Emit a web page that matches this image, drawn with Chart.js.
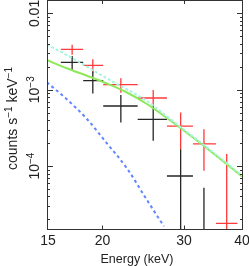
<!DOCTYPE html>
<html><head><meta charset="utf-8">
<script src="https://cdn.jsdelivr.net/npm/chart.js@4/dist/chart.umd.min.js"></script>
<style>html,body{margin:0;padding:0;background:#fff;overflow:hidden}canvas{display:block}</style>
</head><body>
<canvas id="c" width="249" height="266" style="width:249px;height:266px"></canvas>
<script>
// ---- data ----
const binCenter = [17.20, 19.06, 21.91, 25.73, 29.49, 33.11, 37.07];
const binLo     = [16.26, 18.17, 20.07, 23.82, 27.55, 31.35, 35.15];
const binHi     = [18.17, 20.07, 23.82, 27.55, 31.35, 35.15, 39.08];
const redRate   = [3.39e-3, 2.09e-3, 1.165e-3, 7.80e-4, 3.35e-4, 1.95e-4, 1.78e-5];
const redErr    = [0.51e-3, 0.42e-3, 0.25e-3, 2.1e-4, 1.7e-4, 1.08e-4, 1.26e-4];
const blackRate = [2.29e-3, 1.315e-3, 6.13e-4, 4.10e-4, 7.42e-5, 8.0e-6];
const blackErr  = [0.49e-3, 0.42e-3, 2.4e-4, 1.95e-4, 9.2e-5, 4.4e-5];

const modelE    = [15.17, 16.75, 18.51, 20.44, 22.58, 24.94, 27.55, 30.43, 33.11, 40.0];
const greenModel= [2.455e-3, 1.911e-3, 1.529e-3, 1.209e-3, 9.21e-4, 6.51e-4, 4.27e-4, 2.715e-4, 1.834e-4, 7.31e-5];
const cyanModel = [3.92e-3, 2.85e-3, 2.01e-3, 1.41e-3, 1.01e-3, 7.13e-4, 4.47e-4, 2.80e-4, 1.89e-4, 7.53e-5];
const blueE     = [15.17, 16.75, 18.51, 20.44, 22.58, 24.94, 27.14];
const blueModel = [1.253e-3, 7.50e-4, 4.14e-4, 1.99e-4, 9.36e-5, 3.60e-5, 1.63e-5];

const xTickValues = [15, 20, 30, 40];
const xTickLabels = ['15', '20', '30', '40'];
const yTickValues = [0.01, 1e-3, 1e-4];
const yTickBase   = ['0.01', '10', '10'];
const yTickExp    = ['', '\u22123', '\u22124'];

const FONT = '"Liberation Sans", Arial, sans-serif';

function pts(xs, ys) { return xs.map((x, i) => ({ x: x, y: ys[i] })); }

const errSeries = [
  { rate: redRate, err: redErr, color: '#ff3a3a' },
  { rate: blackRate, err: blackErr, color: '#262626' }
];

const plotPlugin = {
  id: 'plotPlugin',
  beforeDatasetsDraw(chart) {
    const ctx = chart.ctx, a = chart.chartArea;
    const xs = chart.scales.x, ys = chart.scales.y;
    ctx.save();
    ctx.beginPath(); ctx.rect(a.left, a.top, a.right - a.left, a.bottom - a.top); ctx.clip();
    errSeries.forEach(s => {
      ctx.strokeStyle = s.color; ctx.lineWidth = 1.3;
      s.rate.forEach((r, i) => {
        const px = xs.getPixelForValue(binCenter[i]);
        const x0 = xs.getPixelForValue(binLo[i]);
        const x1 = xs.getPixelForValue(binHi[i]);
        const py = ys.getPixelForValue(r);
        const hi = ys.getPixelForValue(r + s.err[i]);
        const loV = r - s.err[i];
        const lo = loV > 0 ? ys.getPixelForValue(loV) : a.bottom + 5;
        ctx.beginPath();
        ctx.moveTo(x0, py); ctx.lineTo(x1, py);
        ctx.moveTo(px, hi); ctx.lineTo(px, lo);
        ctx.stroke();
      });
    });
    ctx.restore();
  },
  afterDraw(chart) {
    const ctx = chart.ctx, a = chart.chartArea;
    const xs = chart.scales.x, ys = chart.scales.y;
    ctx.save();
    ctx.strokeStyle = '#333'; ctx.lineWidth = 1;
    ctx.strokeRect(a.left + 0.5, a.top + 0.5, a.right - a.left, a.bottom - a.top);
    ctx.beginPath();
    xTickValues.forEach(v => {
      if (v <= xs.min || v >= xs.max) return;
      const p = Math.round(xs.getPixelForValue(v)) + 0.5;
      ctx.moveTo(p, a.bottom + 0.5); ctx.lineTo(p, a.bottom - 3.5);
      ctx.moveTo(p, a.top); ctx.lineTo(p, a.top + 4);
    });
    for (let d = -6; d <= -1; d++) {
      for (let m = 1; m <= 9; m++) {
        const v = m * Math.pow(10, d);
        if (v < ys.min || v > ys.max) continue;
        const len = m === 1 ? 6 : 3;
        const p = Math.round(ys.getPixelForValue(v)) + 0.5;
        ctx.moveTo(a.left, p); ctx.lineTo(a.left + len, p);
        ctx.moveTo(a.right + 1, p); ctx.lineTo(a.right + 1 - len, p);
      }
    }
    ctx.stroke();
    ctx.fillStyle = '#222';
    ctx.font = '14px ' + FONT;
    ctx.textAlign = 'center'; ctx.textBaseline = 'alphabetic';
    xTickValues.forEach((v, i) => {
      const p = xs.getPixelForValue(Math.min(Math.max(v, xs.min), xs.max));
      ctx.fillText(xTickLabels[i], p + (i === 0 ? 1 : 0), 245);
    });
    yTickValues.forEach((v, i) => {
      const p = ys.getPixelForValue(v);
      ctx.save();
      ctx.translate(38.5, p);
      ctx.rotate(-Math.PI / 2);
      ctx.textAlign = 'left';
      ctx.font = '14px ' + FONT;
      const w1 = ctx.measureText(yTickBase[i]).width;
      ctx.font = '10px ' + FONT;
      const w2 = yTickExp[i] ? ctx.measureText(yTickExp[i]).width : 0;
      const start = -(w1 + w2) / 2;
      ctx.font = '14px ' + FONT;
      ctx.fillText(yTickBase[i], start, 0);
      if (yTickExp[i]) { ctx.font = '10px ' + FONT; ctx.fillText(yTickExp[i], start + w1, -5); }
      ctx.restore();
    });
    ctx.font = '12.5px ' + FONT;
    ctx.textAlign = 'center';
    ctx.fillText('Energy (keV)', 137, 263);
    ctx.save();
    ctx.translate(17, 118.5);
    ctx.rotate(-Math.PI / 2);
    const parts = [['counts s', 14, 0], ['\u22121', 10, -5], [' keV', 14, 0], ['\u22121', 10, -5]];
    let total = 0;
    parts.forEach(pp => { ctx.font = pp[1] + 'px ' + FONT; pp.push(ctx.measureText(pp[0]).width); total += pp[3]; });
    let xpos = -total / 2;
    ctx.textAlign = 'left';
    parts.forEach(pp => { ctx.font = pp[1] + 'px ' + FONT; ctx.fillText(pp[0], xpos, pp[2]); xpos += pp[3]; });
    ctx.restore();
    ctx.restore();
  }
};

new Chart(document.getElementById('c').getContext('2d'), {
  type: 'scatter',
  data: {
    datasets: [
      { label: 'cyan', type: 'line', data: pts(modelE, cyanModel), borderColor: '#a6f5dc', borderWidth: 2,
        borderDash: [3, 2], pointRadius: 0, fill: false, cubicInterpolationMode: 'monotone', clip: 0 },
      { label: 'green', type: 'line', data: pts(modelE, greenModel), borderColor: '#8ee85a', borderWidth: 2,
        pointRadius: 0, fill: false, cubicInterpolationMode: 'monotone', clip: 0 },
      { label: 'blue', type: 'line', data: pts(blueE, blueModel), borderColor: '#6285ff', borderWidth: 2,
        borderDash: [3, 3], pointRadius: 0, fill: false, cubicInterpolationMode: 'monotone', clip: 0 }
    ]
  },
  options: {
    responsive: false, animation: false, events: [],
    layout: { padding: { left: 47, right: 7, top: 0, bottom: 37 } },
    plugins: { legend: { display: false }, tooltip: { enabled: false } },
    scales: {
      x: { type: 'logarithmic', min: 15.18, max: 40, display: false },
      y: { type: 'logarithmic', min: 1.5e-5, max: 0.015, display: false }
    }
  },
  plugins: [plotPlugin]
});
</script>
</body></html>
